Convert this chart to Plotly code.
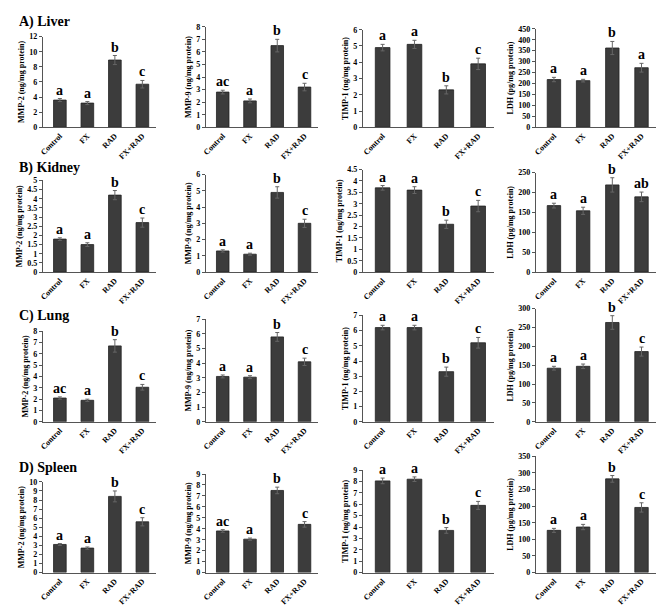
import plotly.graph_objects as go

groups = ["Control", "FX", "RAD", "FX+RAD"]
organs = ["A) Liver", "B) Kidney", "C) Lung", "D) Spleen"]
ytitles = ["MMP-2 (ng/mg protein)", "MMP-9 (ng/mg protein)",
           "TIMP-1 (ng/mg protein)", "LDH (pg/mg protein)"]

# Liver
liver_mmp2 = [3.6, 3.2, 8.9, 5.7]
liver_mmp2_err = [0.2, 0.2, 0.6, 0.5]
liver_mmp9 = [2.8, 2.1, 6.5, 3.2]
liver_mmp9_err = [0.15, 0.15, 0.5, 0.3]
liver_timp1 = [4.9, 5.1, 2.3, 3.9]
liver_timp1_err = [0.2, 0.25, 0.25, 0.35]
liver_ldh = [218, 213, 362, 272]
liver_ldh_err = [10, 6, 30, 20]
# Kidney
kidney_mmp2 = [1.8, 1.5, 4.2, 2.7]
kidney_mmp2_err = [0.07, 0.1, 0.25, 0.25]
kidney_mmp9 = [1.3, 1.1, 4.9, 3.0]
kidney_mmp9_err = [0.07, 0.06, 0.35, 0.25]
kidney_timp1 = [3.7, 3.6, 2.1, 2.9]
kidney_timp1_err = [0.1, 0.15, 0.18, 0.25]
kidney_ldh = [167, 154, 219, 189]
kidney_ldh_err = [6, 9, 18, 12]
# Lung
lung_mmp2 = [2.1, 1.9, 6.7, 3.05]
lung_mmp2_err = [0.1, 0.1, 0.55, 0.25]
lung_mmp9 = [3.1, 3.05, 5.8, 4.1]
lung_mmp9_err = [0.1, 0.1, 0.3, 0.25]
lung_timp1 = [6.2, 6.2, 3.3, 5.2]
lung_timp1_err = [0.15, 0.15, 0.3, 0.35]
lung_ldh = [142, 147, 263, 186]
lung_ldh_err = [5, 6, 18, 12]
# Spleen
spleen_mmp2 = [3.1, 2.7, 8.4, 5.6]
spleen_mmp2_err = [0.1, 0.12, 0.6, 0.45]
spleen_mmp9 = [3.8, 3.05, 7.5, 4.4]
spleen_mmp9_err = [0.12, 0.1, 0.3, 0.25]
spleen_timp1 = [8.05, 8.2, 3.7, 5.9]
spleen_timp1_err = [0.25, 0.2, 0.25, 0.35]
spleen_ldh = [127, 137, 282, 196]
spleen_ldh_err = [6, 8, 10, 14]

# letters
liver_letters = [["a", "a", "b", "c"], ["ac", "a", "b", "c"], ["a", "a", "b", "c"], ["a", "a", "b", "a"]]
kidney_letters = [["a", "a", "b", "c"], ["a", "a", "b", "c"], ["a", "a", "b", "c"], ["a", "a", "b", "ab"]]
lung_letters = [["ac", "a", "b", "c"], ["a", "a", "b", "c"], ["a", "a", "b", "c"], ["a", "a", "b", "c"]]
spleen_letters = [["a", "a", "b", "c"], ["ac", "a", "b", "c"], ["a", "a", "b", "c"], ["a", "a", "b", "c"]]

# axis scales (max, tick step)
liver_scales = [(12, 2), (8, 1), (6, 1), (450, 50)]
kidney_scales = [(5, 0.5), (6, 1), (4.5, 0.5), (250, 50)]
lung_scales = [(8, 1), (7, 1), (7, 1), (300, 50)]
spleen_scales = [(10, 1), (9, 1), (9, 1), (350, 50)]

rows = [
    ([liver_mmp2, liver_mmp9, liver_timp1, liver_ldh],
     [liver_mmp2_err, liver_mmp9_err, liver_timp1_err, liver_ldh_err], liver_letters, liver_scales),
    ([kidney_mmp2, kidney_mmp9, kidney_timp1, kidney_ldh],
     [kidney_mmp2_err, kidney_mmp9_err, kidney_timp1_err, kidney_ldh_err], kidney_letters, kidney_scales),
    ([lung_mmp2, lung_mmp9, lung_timp1, lung_ldh],
     [lung_mmp2_err, lung_mmp9_err, lung_timp1_err, lung_ldh_err], lung_letters, lung_scales),
    ([spleen_mmp2, spleen_mmp9, spleen_timp1, spleen_ldh],
     [spleen_mmp2_err, spleen_mmp9_err, spleen_timp1_err, spleen_ldh_err], spleen_letters, spleen_scales),
]

W, H = 666, 605
col_px = [(31, 145), (195, 308), (353, 485), (527, 648)]
row_bottom_px = [117, 264, 416, 569]
top_px = [[25, 15, 18, 17], [171, 165, 160, 163], [324, 312, 308, 301], [477, 469, 465, 451]]
title_px = [10, 158, 309, 463]

FONT = "Liberation Serif"
fig = go.Figure()
layout = {}
annotations = []

idx = 0
for r, (vals, errs, letters, scales) in enumerate(rows):
    for c in range(4):
        idx += 1
        xa = "x" if idx == 1 else f"x{idx}"
        ya = "y" if idx == 1 else f"y{idx}"
        fig.add_trace(go.Bar(
            x=groups, y=vals[c], xaxis=xa, yaxis=ya,
            width=0.46,
            marker=dict(color="#3c3c3c", line=dict(color="#222222", width=0.8)),
            error_y=dict(type="data", array=errs[c], color="#666666", thickness=1, width=2),
            showlegend=False, hoverinfo="y",
        ))
        ymax, dt = scales[c]
        x0, x1 = col_px[c]
        yb, yt = row_bottom_px[r], top_px[r][c]
        layout["xaxis" if idx == 1 else f"xaxis{idx}"] = dict(
            domain=[x0 / W, x1 / W], anchor=ya,
            range=[-0.62, 3.5], showgrid=False, zeroline=False,
            showline=True, linecolor="#555555", linewidth=1,
            ticks="", tickangle=-45,
            tickfont=dict(family=FONT, size=8, color="black", weight="bold"),
            fixedrange=True,
        )
        layout["yaxis" if idx == 1 else f"yaxis{idx}"] = dict(
            domain=[1 - yb / H, 1 - yt / H], anchor=xa,
            range=[0, ymax], dtick=dt, showgrid=False, zeroline=False,
            showline=True, linecolor="#555555", linewidth=1,
            ticks="outside", ticklen=3, tickcolor="#555555",
            tickfont=dict(family=FONT, size=8, color="black", weight="bold"),
            title=dict(text=ytitles[c], standoff=3,
                       font=dict(family=FONT, size=8, color="black", weight="bold")),
            fixedrange=True,
        )
        for g, v, e, t in zip(groups, vals[c], errs[c], letters[c]):
            annotations.append(dict(
                x=g, y=v + e, xref=xa, yref=ya, text=t, showarrow=False,
                yanchor="bottom", yshift=-1,
                font=dict(family=FONT, size=14, color="black", weight="bold"),
            ))
    annotations.append(dict(
        x=5 / W, y=1 - title_px[r] / H, xref="paper", yref="paper",
        text=organs[r], showarrow=False, xanchor="left", yanchor="middle",
        font=dict(family=FONT, size=14, color="black", weight="bold"),
    ))

fig.update_layout(
    **layout,
    annotations=annotations,
    width=W, height=H,
    margin=dict(l=0, r=0, t=0, b=0),
    paper_bgcolor="white", plot_bgcolor="white",
    bargap=0.5,
)

fig.write_html("out.html")
